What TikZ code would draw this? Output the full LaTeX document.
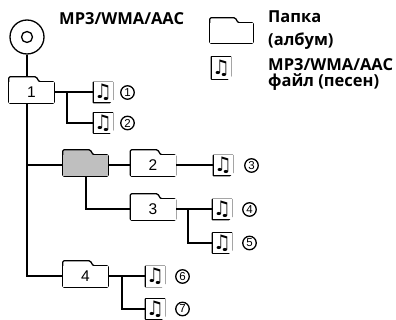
\documentclass[tikz,border=0pt]{standalone}
\usepackage{fontspec}
\usepackage{tikz}
\usetikzlibrary{backgrounds}
\newfontfamily\legendfont{Open Sans}
\newfontfamily\numfont{Liberation Sans}
\newfontfamily\notefont{DejaVu Sans}

\tikzset{
  wire/.style={line width=2pt},
  disc/.style={circle, draw, line width=1.3pt, fill=white, minimum size=34pt,
    inner sep=0pt,
    path picture={\draw[line width=1.3pt] (path picture bounding box.center) circle (5.5pt);}},
  folder/.style={minimum width=45pt, minimum height=21pt, inner sep=0pt,
    fill=#1, font=\numfont\fontsize{15.5}{15.5}\selectfont,
    append after command={\pgfextra{\let\fld\tikzlastnode
      \fill[#1] ([yshift=5pt]\fld.north west) -- ([xshift=-18pt,yshift=5pt]\fld.north east)
        -- ([xshift=-15pt]\fld.north east) -- (\fld.north west) -- cycle;
      \draw[line width=1.3pt, line join=round, rounded corners=1.2pt]
        (\fld.south west) -- ([yshift=5pt]\fld.north west)
        -- ([xshift=-18pt,yshift=5pt]\fld.north east) -- ([xshift=-15pt]\fld.north east)
        -- (\fld.north east) -- (\fld.south east) -- cycle;}}},
  folder/.default=white,
  song/.style={minimum width=19pt, minimum height=20pt, inner sep=0pt, fill=white,
    font=\notefont\bfseries\fontsize{20}{20}\selectfont,
    append after command={\pgfextra{\let\sng\tikzlastnode
      \draw[line width=1.2pt, line join=round] (\sng.south west) -- (\sng.north west)
        -- (\sng.north east) -- ([yshift=3pt]\sng.south east)
        -- ([xshift=-3pt]\sng.south east) -- cycle;
      \fill ([yshift=3pt]\sng.south east) -- ([xshift=-3pt]\sng.south east)
        -- ([xshift=-3pt,yshift=3pt]\sng.south east) -- cycle;}}},
  num/.style={circle, draw, line width=1.3pt, minimum size=13.5pt, inner sep=0pt,
    font=\numfont\fontsize{11.5}{11.5}\selectfont},
  lbl/.style={anchor=base west, inner sep=0pt,
    font=\legendfont\bfseries\fontsize{16.5}{16.5}\selectfont}
}

\begin{document}
\begin{tikzpicture}[x=1pt, y=-1pt]
  \useasboundingbox (0,0) rectangle (396,320);

  % vertices
  \node[disc] (disc) at (27,37) {};
  \node[folder] (f1) at (31.5,92.5) {1};
  \node[folder=black!25] (gf) at (85.5,165.5) {};
  \node[folder] (f2) at (153,165.5) {2};
  \node[folder] (f3) at (153,209.5) {3};
  \node[folder] (f4) at (85.5,276.5) {4};
  \coordinate (j1) at (67,92.5);
  \coordinate (j3) at (188,209.5);
  \coordinate (j4) at (122,276.5);

  % songs
  \node[song] (s1) at (103,92.5) {♫};
  \node[song] (s2) at (103,123) {♫};
  \node[song] (s3) at (223,165.5) {♫};
  \node[song] (s4) at (222,209.5) {♫};
  \node[song] (s5) at (222,243) {♫};
  \node[song] (s6) at (155,276.5) {♫};
  \node[song] (s7) at (155,309) {♫};

  % numbers
  \node[num] (n1) at (127.5,92.5) {1};
  \node[num] (n2) at (127.5,123) {2};
  \node[num] (n3) at (251.5,165.5) {3};
  \node[num] (n4) at (249.5,209.5) {4};
  \node[num] (n5) at (249.5,243) {5};
  \node[num] (n6) at (182.5,276.5) {6};
  \node[num] (n7) at (182.5,309) {7};

  % legend
  \node[lbl] (type) at (59,25) {MP3/WMA/AAC};
  \node[folder, minimum width=43pt, minimum height=20pt] (kfolder) at (231.5,33) {};
  \node[song, minimum height=22pt] (ksong) at (221,68) {♫};
  \node[lbl] (kf1) at (268,23) {Папка};
  \node[lbl] (kf2) at (268,46) {(албум)};
  \node[lbl] (ks1) at (268,71) {MP3/WMA/AAC};
  \node[lbl] (ks2) at (268,87) {файл (песен)};

  % draw tree
  \begin{scope}[on background layer]
    \draw[wire] (disc) |- (f4);
    \draw[wire] (disc |- gf) -- (gf);
    \draw[wire] (f1) -- (s1);
    \draw[wire] (j1) |- (s2);
    \draw[wire] (gf) -- (f2);
    \draw[wire] (f2) -- (s3);
    \draw[wire] (gf) |- (f3);
    \draw[wire] (f3) -- (s4);
    \draw[wire] (j3) |- (s5);
    \draw[wire] (f4) -- (s6);
    \draw[wire] (j4) |- (s7);
  \end{scope}
\end{tikzpicture}
\end{document}
